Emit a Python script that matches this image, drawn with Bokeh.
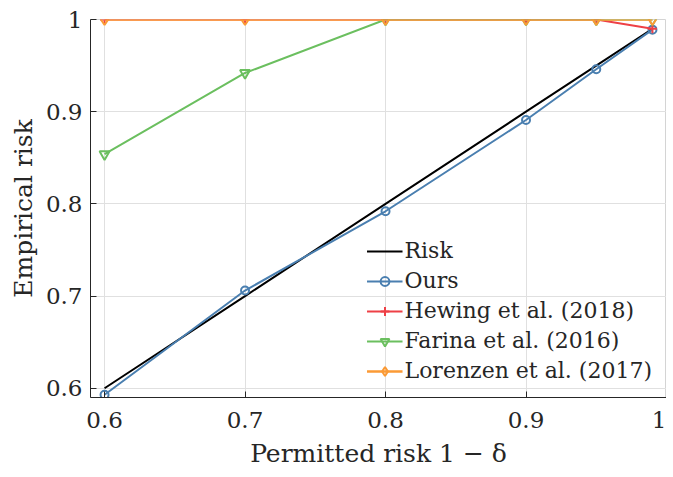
from bokeh.plotting import figure
from bokeh.models import FixedTicker, Range1d, Legend, LegendItem
from bokeh.embed import file_html
from bokeh.resources import INLINE

x = [0.6, 0.7, 0.8, 0.9, 0.95, 0.99]
risk = [0.6, 0.7, 0.8, 0.9, 0.95, 0.99]
ours = [0.593, 0.706, 0.792, 0.891, 0.946, 0.989]
hewing = [1.0, 1.0, 1.0, 1.0, 1.0, 0.99]
farina = [0.854, 0.942, 1.0, 1.0, 1.0, 1.0]
lorenzen = [1.0, 1.0, 1.0, 1.0, 1.0, 1.0]

xticks = [0.6, 0.7, 0.8, 0.9, 1.0]
yticks = [0.6, 0.7, 0.8, 0.9, 1.0]
tick_labels = {0.6: "0.6", 0.7: "0.7", 0.8: "0.8", 0.9: "0.9", 1.0: "1"}

FONT = "DejaVu Serif"

p = figure(width=666, height=470, output_backend="svg", toolbar_location=None,
           x_range=Range1d(0.59, 1.0), y_range=Range1d(0.59, 1.0),
           min_border_left=90, min_border_right=0, min_border_top=19, min_border_bottom=10)

c_risk = "#000000"
c_ours = "#4a7fb0"
c_hew = "#ee4046"
c_far = "#6bbf5f"
c_lor = "#fb9a35"

r_risk = p.line(x, risk, color=c_risk, line_width=2)
l_ours = p.line(x, ours, color=c_ours, line_width=2)
m_ours = p.scatter(x, ours, marker="circle", size=8, fill_color=None, line_color=c_ours, line_width=2)
l_hew = p.line(x, hewing, color=c_hew, line_width=2)
m_hew = p.scatter(x, hewing, marker="cross", size=9, line_color=c_hew, line_width=2)
l_far = p.line(x, farina, color=c_far, line_width=2)
m_far = p.scatter(x, farina, marker="inverted_triangle", size=10, fill_color=None, line_color=c_far, line_width=2)
l_lor = p.line(x, lorenzen, color=c_lor, line_width=2.5)
m_lor = p.scatter(x, lorenzen, marker="diamond", size=11, fill_color=None, line_color=c_lor, line_width=2)

legend = Legend(items=[
    LegendItem(label="Risk", renderers=[r_risk]),
    LegendItem(label="Ours", renderers=[l_ours, m_ours]),
    LegendItem(label="Hewing et al. (2018)", renderers=[l_hew, m_hew]),
    LegendItem(label="Farina et al. (2016)", renderers=[l_far, m_far]),
    LegendItem(label="Lorenzen et al. (2017)", renderers=[l_lor, m_lor]),
], location="bottom_right")
legend.background_fill_alpha = 0
legend.border_line_color = None
legend.label_text_font = FONT
legend.label_text_font_size = "22px"
legend.label_text_color = "#262626"
legend.glyph_width = 36
legend.glyph_height = 22
legend.label_standoff = 2
legend.spacing = 5
legend.padding = 4
legend.margin = 14
p.add_layout(legend, "center")

for ax in (p.xaxis[0], p.yaxis[0]):
    ax.major_label_text_font = FONT
    ax.major_label_text_font_size = "23px"
    ax.major_label_text_color = "#262626"
    ax.axis_label_text_font = FONT
    ax.axis_label_text_font_size = "25px"
    ax.axis_label_text_font_style = "normal"
    ax.axis_label_text_color = "#262626"
    ax.axis_line_color = "#262626"
    ax.major_tick_line_color = "#262626"
    ax.major_tick_in = 6
    ax.major_tick_out = 0
    ax.minor_tick_line_color = None
    ax.major_label_overrides = tick_labels

p.xaxis.ticker = FixedTicker(ticks=xticks)
p.yaxis.ticker = FixedTicker(ticks=yticks)
p.xaxis.axis_label = "Permitted risk 1 − δ"
p.yaxis.axis_label = "Empirical risk"
p.xaxis.major_label_standoff = 14
p.xaxis.axis_label_standoff = 8
p.yaxis.major_label_standoff = 8

p.xgrid.grid_line_color = "#e0e0e0"
p.ygrid.grid_line_color = "#e0e0e0"
p.xgrid.ticker = FixedTicker(ticks=xticks)
p.ygrid.ticker = FixedTicker(ticks=yticks)
p.outline_line_color = "#d4d4d4"
p.background_fill_color = "white"

open("out.html", "w").write(file_html(p, INLINE))
